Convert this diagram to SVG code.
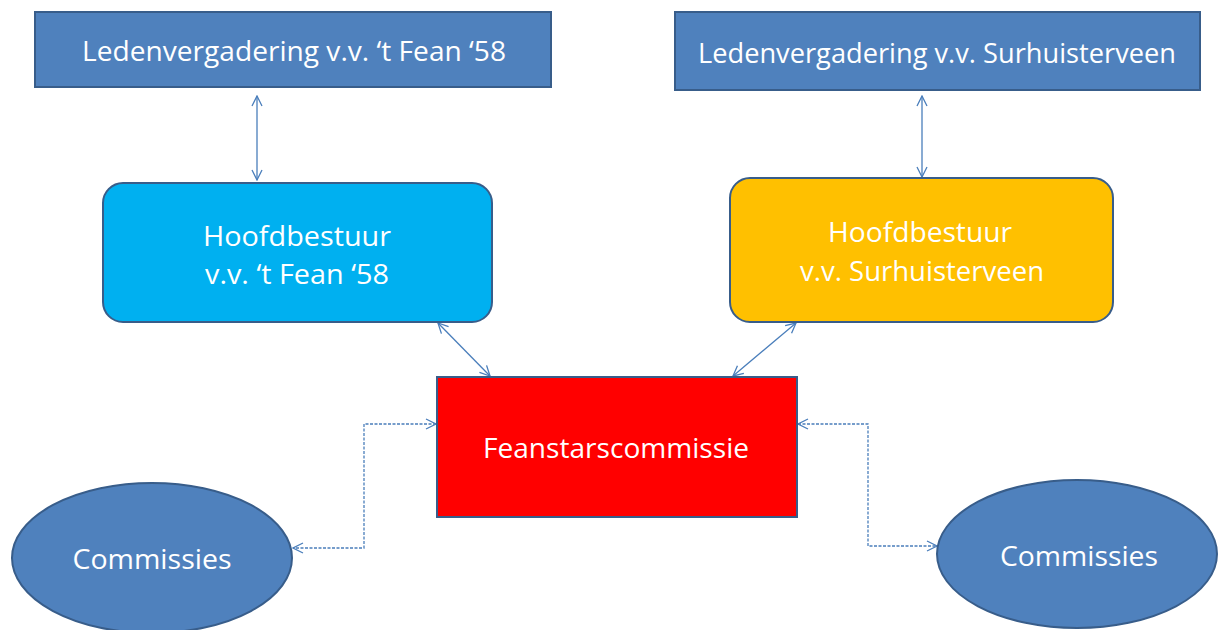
<svg xmlns="http://www.w3.org/2000/svg" width="1218" height="630" viewBox="0 0 1218 630">
<style>
.lbl{font-family:"Open Sans","Noto Sans","Liberation Sans",sans-serif;font-size:27px;fill:#ffffff;text-anchor:middle}
.box{stroke:#385D8A;stroke-width:2}
.con{fill:none;stroke:#4A7EBB;stroke-width:1.3}
.dash{stroke-dasharray:3,1.5}
</style>
<defs>
<marker id="ah" viewBox="0 0 12 12" refX="11" refY="6" markerWidth="12" markerHeight="12" markerUnits="userSpaceOnUse" orient="auto-start-reverse">
<path d="M1,1 L11,6 L1,11" fill="none" stroke="#4A7EBB" stroke-width="1.3"/>
</marker>
</defs>
<rect width="1218" height="630" fill="#ffffff"/>
<g id="connectors">
<line class="con" x1="257" y1="96" x2="257" y2="180" marker-start="url(#ah)" marker-end="url(#ah)"/>
<line class="con" x1="922" y1="96" x2="922" y2="177" marker-start="url(#ah)" marker-end="url(#ah)"/>
<line class="con" x1="438" y1="323" x2="490" y2="376" marker-start="url(#ah)" marker-end="url(#ah)"/>
<line class="con" x1="796" y1="323" x2="733" y2="376" marker-start="url(#ah)" marker-end="url(#ah)"/>
<polyline class="con dash" points="436,424 364,424 364,548 293,548" marker-start="url(#ah)" marker-end="url(#ah)"/>
<polyline class="con dash" points="798,424 868,424 868,546 937,546" marker-start="url(#ah)" marker-end="url(#ah)"/>
</g>
<g id="leden-fean">
<rect class="box" x="35" y="12" width="516" height="75" fill="#4F81BD"/>
<text class="lbl" x="294" y="61" textLength="424" lengthAdjust="spacingAndGlyphs">Ledenvergadering v.v. ‘t Fean ‘58</text>
</g>
<g id="leden-surhuisterveen">
<rect class="box" x="675" y="12" width="525" height="78" fill="#4F81BD"/>
<text class="lbl" x="937" y="63" textLength="478" lengthAdjust="spacingAndGlyphs">Ledenvergadering v.v. Surhuisterveen</text>
</g>
<g id="hoofd-fean">
<rect class="box" x="103" y="183" width="389" height="139" rx="20" fill="#00B0F0"/>
<text class="lbl" x="297" y="246" textLength="188" lengthAdjust="spacingAndGlyphs">Hoofdbestuur</text>
<text class="lbl" x="297" y="284" textLength="184" lengthAdjust="spacingAndGlyphs">v.v. ‘t Fean ‘58</text>
</g>
<g id="hoofd-surhuisterveen">
<rect class="box" x="730" y="178" width="383" height="144" rx="20" fill="#FFC000"/>
<text class="lbl" x="920" y="242" textLength="184" lengthAdjust="spacingAndGlyphs">Hoofdbestuur</text>
<text class="lbl" x="922" y="281" textLength="244" lengthAdjust="spacingAndGlyphs">v.v. Surhuisterveen</text>
</g>
<g id="feanstarscommissie">
<rect class="box" x="437" y="377" width="360" height="140" fill="#FF0000"/>
<text class="lbl" x="616" y="458" textLength="266" lengthAdjust="spacingAndGlyphs">Feanstarscommissie</text>
</g>
<g id="commissies-left">
<ellipse class="box" cx="152" cy="558" rx="140" ry="75" fill="#4F81BD"/>
<text class="lbl" x="152" y="569" textLength="159" lengthAdjust="spacingAndGlyphs">Commissies</text>
</g>
<g id="commissies-right">
<ellipse class="box" cx="1077" cy="554" rx="140" ry="74" fill="#4F81BD"/>
<text class="lbl" x="1079" y="566" textLength="158" lengthAdjust="spacingAndGlyphs">Commissies</text>
</g>
</svg>
